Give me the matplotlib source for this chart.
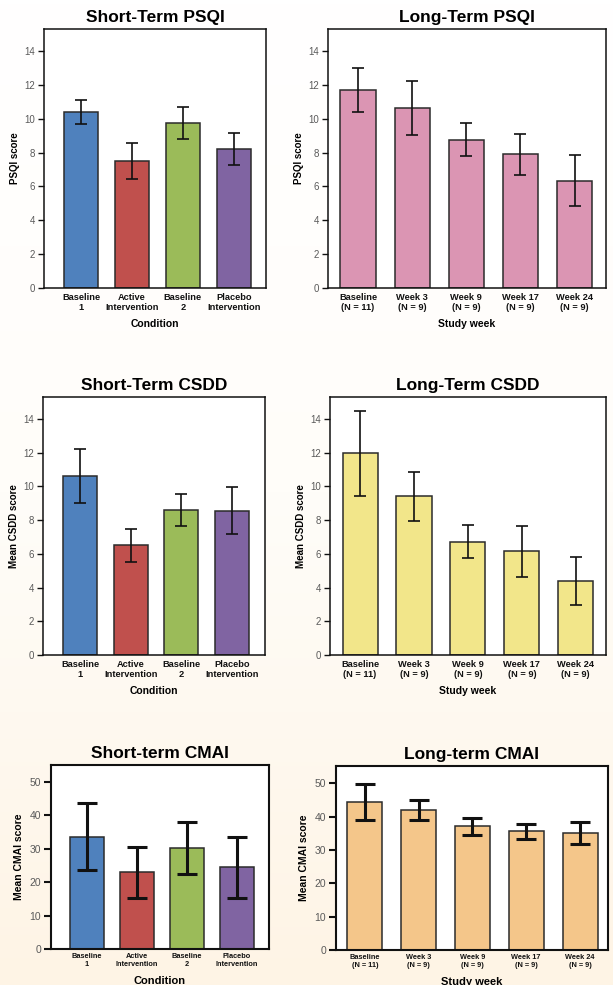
import numpy as np
import matplotlib
matplotlib.use("Agg")
import matplotlib.pyplot as plt
from matplotlib.colors import LinearSegmentedColormap

plt.rcParams['font.family'] = ['Liberation Sans', 'DejaVu Sans']

# ---------------- data ----------------
short_cats = ["Baseline\n1", "Active\nIntervention", "Baseline\n2", "Placebo\nIntervention"]
long_cats = ["Baseline\n(N = 11)", "Week 3\n(N = 9)", "Week 9\n(N = 9)", "Week 17\n(N = 9)", "Week 24\n(N = 9)"]
short_colors = ["#4F81BD", "#C0504D", "#9BBB59", "#8064A2"]

psqi_short_mean = [10.4, 7.5, 9.75, 8.2]
psqi_short_err = [0.7, 1.05, 0.97, 0.96]
psqi_long_mean = [11.7, 10.65, 8.77, 7.9, 6.35]
psqi_long_err = [1.29, 1.6, 0.97, 1.21, 1.5]

csdd_short_mean = [10.6, 6.5, 8.6, 8.55]
csdd_short_err = [1.6, 1.0, 0.95, 1.4]
csdd_long_mean = [11.95, 9.4, 6.72, 6.15, 4.4]
csdd_long_err = [2.5, 1.48, 0.98, 1.52, 1.42]

cmai_short_mean = [33.6, 22.9, 30.2, 24.4]
cmai_short_err = [10.0, 7.6, 7.85, 9.15]
cmai_long_mean = [44.4, 42.0, 37.1, 35.6, 35.1]
cmai_long_err = [5.3, 2.9, 2.5, 2.15, 3.3]

psqi_ticks = [0, 2, 4, 6, 8, 10, 12, 14]
cmai_ticks = [0, 10, 20, 30, 40, 50]

# ---------------- figure ----------------
W, H = 613, 985
fig = plt.figure(figsize=(W / 100, H / 100), dpi=100)

# background gradient
bg = fig.add_axes([0, 0, 1, 1], zorder=-10)
cmap = LinearSegmentedColormap.from_list("bg", ["#FFFFFF", "#FFFDF9", "#FEF4E5"])
grad = np.linspace(0, 1, 256).reshape(-1, 1)
bg.imshow(grad, aspect="auto", cmap=cmap, extent=[0, 1, 0, 1], origin="upper")
bg.set_axis_off()


def make_ax(left, right, top, bottom):
    return fig.add_axes([left / W, 1 - bottom / H, (right - left) / W, (bottom - top) / H])


def panel(box, title, cats, means, errs, colors, ylabel, xlabel, ylim, yticks, xlim,
          width, small=False):
    ax = make_ax(*box)
    x = np.arange(len(cats))
    lw_err = 2.2 if small else 1.2
    cap = 7.5 if small else 4.0
    ax.bar(x, means, width=width, color=colors, edgecolor="#2b2b2b", linewidth=1.1, zorder=2)
    ax.errorbar(x, means, yerr=errs, fmt="none", ecolor="#111111", elinewidth=lw_err,
                capsize=cap, capthick=lw_err, zorder=3)
    ax.set_xlim(*xlim)
    ax.set_ylim(*ylim)
    ax.set_yticks(yticks)
    ax.set_xticks(x)
    ax.set_xticklabels(cats, fontsize=(5.3 if small else 6.7), fontweight="bold",
                       linespacing=1.2, color="#111111")
    ax.tick_params(axis="x", length=0, pad=(3 if small else 3.5))
    ax.tick_params(axis="y", direction="out", length=(5 if small else 4.3),
                   width=(1.5 if small else 1.0), labelsize=(7.5 if small else 7),
                   labelcolor="#5a5a5a", pad=2, color="#111111")
    for s in ax.spines.values():
        s.set_linewidth(1.5 if small else 1.1)
        s.set_color("#111111")
    ax.set_facecolor("white")
    ax.set_title(title, fontsize=12.5, fontweight="bold", pad=5)
    ax.set_ylabel(ylabel, fontsize=(7.5 if small else 7), fontweight="bold", labelpad=(4 if small else 3))
    ax.set_xlabel(xlabel, fontsize=(8 if small else 7.5), fontweight="bold", labelpad=(5.5 if small else 5))
    return ax


panel((44, 266, 29, 288), "Short-Term PSQI", short_cats, psqi_short_mean, psqi_short_err,
      short_colors, "PSQI score", "Condition", (0, 15.3), psqi_ticks, (-0.725, 3.63), 0.67)
panel((328, 606, 29, 288), "Long-Term PSQI", long_cats, psqi_long_mean, psqi_long_err,
      ["#DB95B3"] * 5, "PSQI score", "Study week", (0, 15.3), psqi_ticks, (-0.555, 4.58), 0.65)

panel((43, 265, 397, 655), "Short-Term CSDD", short_cats, csdd_short_mean, csdd_short_err,
      short_colors, "Mean CSDD score", "Condition", (0, 15.3), psqi_ticks, (-0.73, 3.65), 0.67)
panel((330, 606, 397, 655), "Long-Term CSDD", long_cats, csdd_long_mean, csdd_long_err,
      ["#F2E68A"] * 5, "Mean CSDD score", "Study week", (0, 15.3), psqi_ticks, (-0.557, 4.56), 0.65)

panel((51, 269, 765, 949), "Short-term CMAI", short_cats, cmai_short_mean, cmai_short_err,
      short_colors, "Mean CMAI score", "Condition", (0, 55), cmai_ticks, (-0.715, 3.65), 0.68, small=True)
panel((336, 608, 766, 950), "Long-term CMAI", long_cats, cmai_long_mean, cmai_long_err,
      ["#F4C68A"] * 5, "Mean CMAI score", "Study week", (0, 55.2), cmai_ticks, (-0.535, 4.52), 0.65, small=True)

fig.savefig("out.png", dpi=100)
